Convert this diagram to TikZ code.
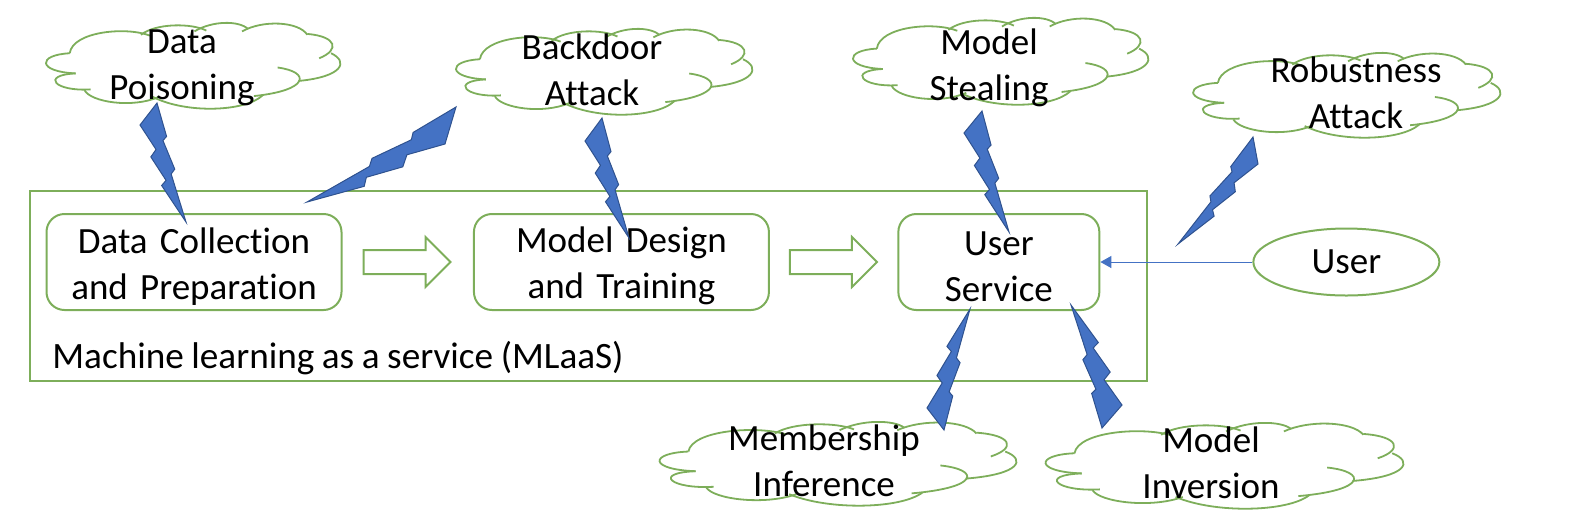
\documentclass[tikz,border=0pt]{standalone}
\usepackage{fontspec}
\setmainfont{Carlito}[Ligatures=CommonOff, WordSpace=0.9]
\usetikzlibrary{positioning, arrows.meta, shapes.geometric, shapes.arrows, calc}
\definecolor{GreenA}{HTML}{7DAE5A}
\definecolor{BlueA}{HTML}{4472C4}
\definecolor{BlueB}{HTML}{2F528F}
\tikzset{
  box/.style={draw=GreenA, line width=1pt, rounded corners=9pt, align=center, font=\fontsize{18.5}{23}\selectfont, minimum height=48pt, inner sep=0pt, execute at begin node=\rule{0pt}{17pt}},
  frame/.style={draw=GreenA, line width=1pt, minimum width=558.5pt, minimum height=95pt, inner sep=0pt},
  flow/.style={single arrow, draw=GreenA, line width=1pt, minimum height=43.5pt, inner xsep=0pt, inner ysep=5.5pt, single arrow head extend=6.5pt, single arrow tip angle=90},
  actor/.style={ellipse, draw=GreenA, line width=1pt, minimum width=93pt, minimum height=33.5pt, inner sep=0pt, font=\fontsize{18.5}{23}\selectfont},
  attack/.style={align=center, font=\fontsize{18.5}{23}\selectfont, inner sep=0pt},
  note/.style={font=\fontsize{18.6}{23}\selectfont, inner sep=0pt},
  arr/.style={-{Triangle[length=5.5pt, width=6pt]}, draw=BlueA, line width=0.5pt},
  bolt/.style={fill=BlueA, draw=BlueB, line width=0.5pt},
  cloudline/.style={draw=GreenA, line width=0.9pt},
  cloudpic/.pic={
    \draw[cloudline] (0.09,0.36) .. controls (0.10,0.10) and (0.28,0.04) .. (0.36,0.15);
    \draw[cloudline] (0.33,0.14) .. controls (0.38,0.00) and (0.50,0.00) .. (0.55,0.09);
    \draw[cloudline] (0.51,0.10) .. controls (0.57,-0.03) and (0.66,-0.03) .. (0.69,0.07);
    \draw[cloudline] (0.67,0.10) .. controls (0.74,-0.04) and (0.86,-0.02) .. (0.89,0.14);
    \draw[cloudline] (0.89,0.13) .. controls (0.99,0.16) and (1.00,0.32) .. (0.93,0.42);
    \draw[cloudline] (0.97,0.36) .. controls (1.03,0.46) and (1.01,0.64) .. (0.86,0.69);
    \draw[cloudline] (0.79,0.53) .. controls (0.90,0.58) and (0.90,0.80) .. (0.71,0.87);
    \draw[cloudline] (0.74,0.86) .. controls (0.68,1.06) and (0.48,1.08) .. (0.37,0.88);
    \draw[cloudline] (0.39,0.88) .. controls (0.30,1.02) and (0.16,0.94) .. (0.14,0.80);
    \draw[cloudline] (0.16,0.79) .. controls (0.04,0.82) and (-0.01,0.62) .. (0.11,0.60);
    \draw[cloudline] (0.11,0.60) .. controls (-0.02,0.58) and (-0.02,0.38) .. (0.09,0.36);
  }
}
% lightning shape through its top corner, side corner and tip
\newcommand{\boltshape}[3]{
  \coordinate (bA) at ($1.9932*(#1)-1.9932*(#2)+0.359*(#3)-0.359*(#1)$);
  \coordinate (bB) at ($(#3)-(#1)-0.6078*(bA)$);
  \coordinate (bO) at ($(#1)-0.3922*(bA)$);
  \draw[bolt] (#1)
    -- ($(bO)+0.595*(bA)+0.281*(bB)$) -- ($(bO)+0.512*(bA)+0.315*(bB)$)
    -- ($(bO)+0.767*(bA)+0.556*(bB)$) -- ($(bO)+0.684*(bA)+0.596*(bB)$)
    -- (#3)
    -- ($(bO)+0.464*(bA)+0.690*(bB)$) -- ($(bO)+0.566*(bA)+0.648*(bB)$)
    -- ($(bO)+0.232*(bA)+0.449*(bB)$) -- ($(bO)+0.352*(bA)+0.388*(bB)$)
    -- (#2) -- cycle;
}
\begin{document}
\begin{tikzpicture}[x=0.5pt, y=-0.5pt]
  \useasboundingbox (0,0) rectangle (1572,526);

  \node[frame] (mlaas) at (588.5,285.5) {};
  \node[box,text width=147.5pt,minimum width=147.5pt] (collect) at (194,262) {Data Collection\\and Preparation};
  \node[flow,right=10pt of collect] (flowa) {};
  \node[box,text width=147.5pt,minimum width=147.5pt,right=10.5pt of flowa] (design) {Model Design\\and Training};
  \node[flow,right=9.5pt of design] (flowb) {};
  \node[box,text width=100.5pt,minimum width=100.5pt,right=9.5pt of flowb] (service) {User\\Service};
  \node[actor,right=76pt of service] (user) {User};
  \node[note,anchor=west] (mlaaslabel) at (52,358) {Machine learning as a service (MLaaS)};

  \draw[arr] (user) -- (service);

  \pic[xscale=297,yscale=84] at (43,23) {cloudpic};
  \pic[xscale=299,yscale=84] at (453,29) {cloudpic};
  \pic[xscale=298,yscale=85] at (850,18) {cloudpic};
  \pic[xscale=310,yscale=83] at (1190,53) {cloudpic};
  \pic[xscale=360,yscale=82] at (656,422) {cloudpic};
  \pic[xscale=361,yscale=84] at (1042,423) {cloudpic};

  \node[attack] (poison) at (182,68) {Data\\Poisoning};
  \node[attack] (backdoor) at (592,70) {Backdoor\\Attack};
  \node[attack] (stealing) at (989,68) {Model\\Stealing};
  \node[attack] (robust) at (1356,93) {Robustness\\Attack};
  \node[attack] (member) at (824,461) {Membership\\Inference};
  \node[attack] (inversion) at (1211,463) {Model\\Inversion};

  \boltshape{157,103}{140,125}{186,222}
  \boltshape{456,107}{445,144}{307,202}
  \boltshape{602,118}{585,141}{629,238}
  \boltshape{982,111}{964,133}{1009,232}
  \boltshape{1253,137}{1258,164}{1178,244}
  \boltshape{944,430}{927,408}{970,309}
  \boltshape{1102,428}{1122,405}{1071,305}
\end{tikzpicture}
\end{document}
